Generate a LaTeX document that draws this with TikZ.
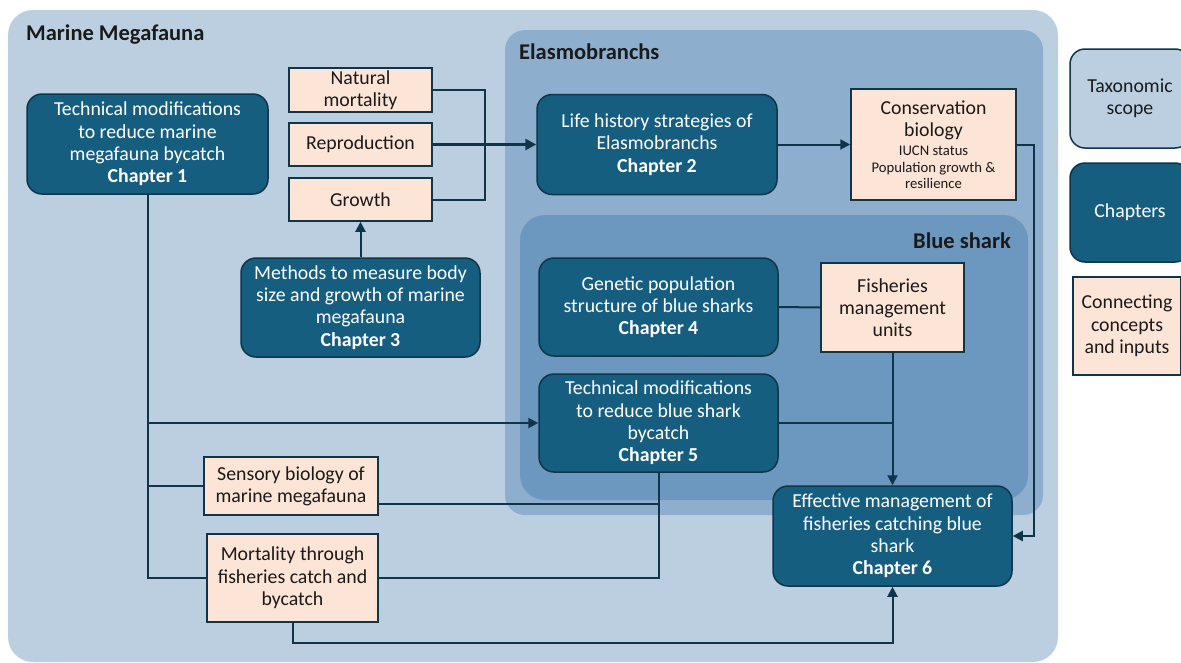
\documentclass[tikz,border=0pt]{standalone}
\usepackage{fontspec}
\setmainfont{Carlito}
\usetikzlibrary{arrows.meta}
\definecolor{outerbg}{HTML}{BBCFE1}
\definecolor{elasbg}{HTML}{8DAECC}
\definecolor{bluebg}{HTML}{6C97BF}
\definecolor{chapc}{HTML}{165E80}
\definecolor{darkc}{HTML}{0F3548}
\definecolor{peach}{HTML}{FCE4D6}
\definecolor{txt}{HTML}{1A1A1A}
\begin{document}
\begin{tikzpicture}[x=1pt,y=-1pt,
  chap/.style={fill=chapc, draw=darkc, line width=1.5pt, rounded corners=15pt, text=white, align=center, font=\fontsize{19.8}{22.3}\selectfont, inner sep=0pt},
  pch/.style={fill=peach, draw=darkc, line width=1.5pt, align=center, text=txt, font=\fontsize{19.8}{22.3}\selectfont, inner sep=0pt},
  conn/.style={draw=darkc, line width=2pt},
  arr/.style={conn, -{Triangle[length=10pt,width=10pt]}},
  bigarr/.style={draw=darkc, line width=3pt, -{Triangle[length=11pt,width=11pt]}},
  ttl/.style={font=\fontsize{22.5}{26}\selectfont\bfseries, text=txt, inner sep=0pt}
]
\useasboundingbox (0,0) rectangle (1181,662);
\fill[white] (0,0) rectangle (1181,662);
% taxonomic areas
\fill[outerbg, rounded corners=25pt] (8,10) rectangle (1058,662);
\fill[elasbg, rounded corners=20pt] (505,30) rectangle (1043,515);
\fill[bluebg, rounded corners=25pt] (520,215) rectangle (1028,500);
\node[ttl, anchor=west] (tmm) at (26,35) {Marine Megafauna};
\node[ttl, anchor=west] (tel) at (519,52) {Elasmobranchs};
\node[ttl, anchor=east] (tbs) at (1011,241) {Blue shark};

% nodes
\node[chap, minimum width=241pt, minimum height=100pt] (c1) at (147.5,144) {Technical modifications\\to reduce marine\\megafauna bycatch\\\textbf{Chapter 1}};
\node[pch, minimum width=143pt, minimum height=44pt] (nm) at (360.5,90) {Natural\\mortality};
\node[pch, minimum width=143pt, minimum height=43pt] (rep) at (360.5,144.5) {Reproduction};
\node[pch, minimum width=143pt, minimum height=43pt] (gro) at (360.5,199.5) {Growth};
\node[chap, minimum width=239pt, minimum height=99pt] (c3) at (360.5,307.5) {Methods to measure body\\size and growth of marine\\megafauna\\\textbf{Chapter 3}};
\node[chap, minimum width=240pt, minimum height=100pt] (c2) at (657,144.5) {Life history strategies of\\Elasmobranchs\\\textbf{Chapter 2}};
\node[pch, minimum width=165pt, minimum height=111pt] (cons) at (933.5,144.5) {Conservation\\biology\\[-3pt]{\fontsize{14.7}{16}\selectfont IUCN status}\\[-6pt]{\fontsize{14.7}{16}\selectfont Population growth \&}\\[-6pt]{\fontsize{14.7}{16}\selectfont resilience}};
\node[chap, minimum width=239pt, minimum height=98pt] (c4) at (658.5,307) {Genetic population\\structure of blue sharks\\\textbf{Chapter 4}};
\node[pch, minimum width=143pt, minimum height=89pt] (fmu) at (892.5,307.5) {Fisheries\\management\\units};
\node[chap, minimum width=239pt, minimum height=98pt] (c5) at (658.5,423) {Technical modifications\\to reduce blue shark\\bycatch\\\textbf{Chapter 5}};
\node[pch, minimum width=174pt, minimum height=58pt] (sens) at (291,486) {Sensory biology of\\marine megafauna};
\node[pch, minimum width=171pt, minimum height=88pt] (mort) at (292.5,578) {Mortality through\\fisheries catch and\\bycatch};
\node[chap, minimum width=239pt, minimum height=100pt] (c6) at (892.5,536) {Effective management of\\fisheries catching blue\\shark\\\textbf{Chapter 6}};

% legend
\node[chap, fill=outerbg, text=txt, minimum width=120pt, minimum height=99pt] (ltax) at (1130,98.5) {Taxonomic\\scope};
\node[chap, minimum width=120pt, minimum height=99pt] (lchap) at (1130,212.5) {Chapters};
\node[pch, minimum width=108pt, minimum height=98pt] (lcon) at (1127,326) {Connecting\\concepts\\and inputs};

% connectors
\coordinate (j1) at (485,144.5);
\draw[conn] (nm.east) -| (j1);
\draw[conn] (gro.east) -| (j1);
\draw[bigarr] (rep.east) -- (c2.west);
\draw[arr] (c3.north) -- (gro.south);
\draw[arr] (c2.east) -- (cons.west);
\draw[arr] (cons.east) -- ++(17,0) |- (c6.east);
\draw[conn] (c4.east) -- (fmu.west);
\draw[arr] (fmu.south) -- (c6.north);
\draw[conn] (c5.east) -- (c5.east -| fmu.south);
\draw[conn] (c1.south) |- (mort.west);
\draw[arr] (c1.south |- c5.west) -- (c5.west);
\draw[conn] (c1.south |- sens.west) -- (sens.west);
\draw[conn] ([yshift=-18pt]sens.east) -| (c5.south);
\draw[conn] (c5.south) |- (mort.east);
\draw[arr] (mort.south) -- ++(0,20) -| (c6.south);
\end{tikzpicture}
\end{document}
